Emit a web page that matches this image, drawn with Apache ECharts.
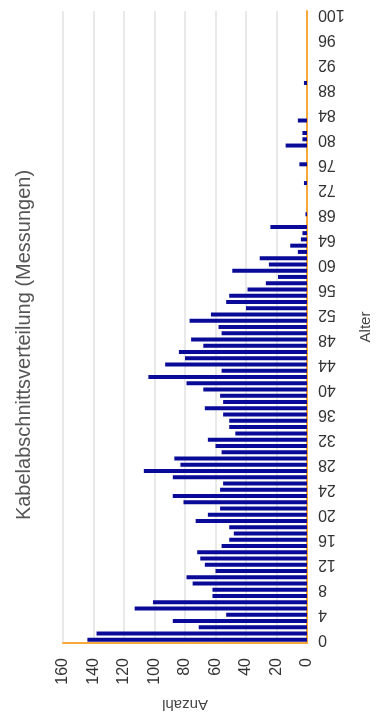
<!DOCTYPE html>
<html>
<head>
<meta charset="utf-8">
<script src="https://cdn.jsdelivr.net/npm/echarts@6/dist/echarts.min.js"></script>
<style>
  html, body { margin: 0; padding: 0; background: #ffffff; }
  #chart { width: 376px; height: 724px; }
</style>
</head>
<body>
<div id="chart"></div>
<script>
// Age categories 0..100
const ageCategories = [];
for (let a = 0; a <= 100; a++) ageCategories.push(String(a));

// Number of cable sections per age
const counts = [
  144, 138, 71, 88, 53, 113, 101, 62, 62, 75,
  79, 60, 67, 70, 72, 56, 51, 48, 51, 73,
  65, 57, 81, 88, 57, 55, 88, 107, 83, 87,
  56, 60, 65, 47, 51, 51, 55, 67, 55, 57,
  68, 79, 104, 56, 93, 80, 84, 68, 76, 56,
  58, 77, 63, 40, 53, 51, 39, 27, 19, 49,
  25, 31, 6, 11, 4, 3, 24, 0, 1, 0,
  0, 0, 0, 2, 0, 0, 5, 0, 0, 14,
  3, 3, 0, 6, 0, 0, 0, 0, 0, 2,
  0, 0, 0, 0, 0, 0, 0, 0, 0, 0,
  0
];

const countTicks = { min: 0, max: 160, step: 20 };

const titleText = 'Kabelabschnittsverteilung (Messungen)';
const ageAxisName = 'Alter';
const countAxisName = 'Anzahl';

const FONT = '"Liberation Sans", Arial, sans-serif';
const AXIS_ORANGE = '#f7a93c';

const chart = echarts.init(document.getElementById('chart'), null, { renderer: 'canvas' });

chart.setOption({
  animation: false,
  backgroundColor: '#ffffff',
  textStyle: { fontFamily: FONT },
  grid: {
    left: 63, right: 69, top: 11, bottom: 81,
    containLabel: false,
    outerBoundsMode: 'none'
  },
  graphic: [{
    // chart title, running up the left edge
    type: 'text',
    rotation: Math.PI / 2,
    x: 24,
    y: 345,
    style: {
      text: titleText,
      fontFamily: FONT,
      fontSize: 20,
      fill: '#555555',
      textAlign: 'center',
      textVerticalAlign: 'middle'
    }
  }],
  xAxis: {
    type: 'value',
    position: 'bottom',
    inverse: true,
    min: countTicks.min,
    max: countTicks.max,
    interval: countTicks.step,
    name: countAxisName,
    nameLocation: 'middle',
    nameRotate: 180,
    nameGap: 54,
    nameTextStyle: { fontFamily: FONT, fontSize: 15, color: '#444444' },
    axisLine: { show: true, lineStyle: { color: AXIS_ORANGE, width: 2 } },
    axisTick: { show: false },
    axisLabel: {
      rotate: 90,
      margin: 15,
      fontFamily: FONT,
      fontSize: 16,
      color: '#333333'
    },
    splitLine: { show: true, lineStyle: { color: '#e2e2e2', width: 1.5 } }
  },
  yAxis: {
    type: 'category',
    position: 'right',
    data: ageCategories,
    boundaryGap: true,
    name: ageAxisName,
    nameLocation: 'middle',
    nameGap: 51,
    nameTextStyle: { fontFamily: FONT, fontSize: 15, color: '#444444' },
    axisLine: { show: true, lineStyle: { color: AXIS_ORANGE, width: 2 } },
    axisTick: { show: false },
    axisLabel: {
      interval: 3,
      rotate: -180,
      margin: 11,
      fontFamily: FONT,
      fontSize: 16,
      color: '#333333'
    },
    splitLine: { show: false }
  },
  series: [{
    type: 'bar',
    data: counts,
    barWidth: 4,
    itemStyle: { color: '#0a0a98' }
  }]
});
</script>
</body>
</html>
